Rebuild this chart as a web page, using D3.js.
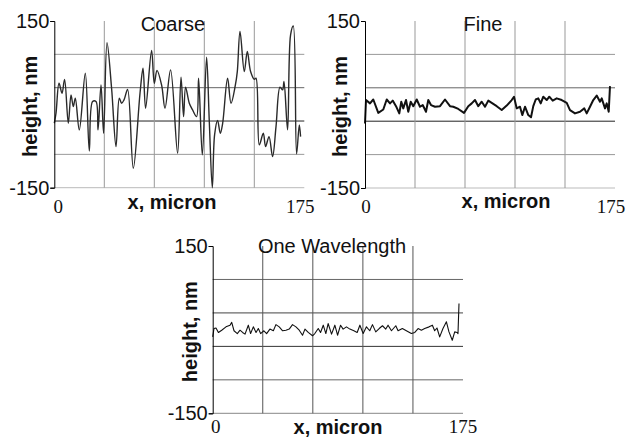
<!DOCTYPE html>
<html><head><meta charset="utf-8">
<script src="https://cdn.jsdelivr.net/npm/d3@7"></script>
<style>body{margin:0;background:#fff}svg{display:block}</style>
</head><body>
<svg id="c" width="641" height="438"></svg>
<script>
// ---- data ----
const yTicks = [-150, 150];
const xTicks = [0, 175];
const gridX = [35, 70, 105, 140];
const gridY = [-150, -90, -30, 30, 90];

const coarseX = [0,1.2,3.3,5.4,7.2,9.8,11.7,13.3,14.7,17.5,21.7,24.5,26.8,29.2,30.6,32.7,34.5,36.9,40.1,43.2,45.5,47.1,48.8,51.3,55.3,60.0,62.1,63.9,68.1,70.0,71.9,75.1,77.5,81.4,86.3,88.7,90.5,91.9,94.5,96.8,99.6,101.0,103.6,106.6,108.5,110.6,112.2,114.3,116.2,117.8,121.3,123.7,126.7,128.1,130.0,133.0,135.1,137.4,140.0,141.2,143.5,146.3,147.9,150.3,152.8,155.2,158.0,159.8,160.8,163.3,165.4,167.3,169.6,171.5,172.4];
const coarseY = [-34,-16,38,20,45,-34,17,-4,11,-46,56,-84,5,5,-46,35,-52,111,29,-76,11,2,8,27,-115,20,65,-7,97,38,61,35,-7,62,-88,49,-22,31,2,-10,-22,47,-91,85,-31,-150,-55,-29,-52,-35,47,2,34,59,131,59,95,59,45,47,-73,-52,-76,-58,-94,-40,31,26,41,-46,125,141,-89,-37,-58];

const fineX = [0,0.7,3.5,5.8,9.3,12.8,15.2,17.5,19.4,21.7,24.0,25.4,26.8,28.7,30.3,32.0,33.8,36.2,38.5,40.4,42.7,44.3,46.2,49.0,52.5,56.0,59.5,61.8,65.3,69.3,72.3,74.7,77.0,79.3,81.7,84.0,86.3,88.7,92.2,95.7,99.2,102.7,104.3,106.2,108.5,110.1,112.0,114.3,116.2,117.8,119.5,121.3,123.0,124.8,127.2,129.0,131.4,134.2,137.7,141.2,143.5,147.0,150.5,153.5,155.2,157.5,159.8,162.2,164.5,165.7,168.0,169.2,170.6,171.5];
const fineY = [-34,8,2,9,-15,-9,9,2,7,-3,-16,5,-7,8,-13,5,-3,9,-4,-1,-13,8,-1,-4,-3,9,-3,-4,-8,-15,-3,2,8,-3,5,-4,7,3,-3,-10,-2,8,14,-7,-4,-19,-4,-19,-23,-3,9,11,2,14,8,14,7,11,8,3,-10,-16,-13,-7,-16,-4,8,16,5,11,-7,2,-13,33];

const waveX = [0,0.9,2.3,4.0,6.3,9.3,12.1,13.3,14.9,17.2,19.1,20.9,22.6,24.9,26.5,28.4,30.3,31.9,33.5,35.8,37.7,40.0,42.4,44.2,46.5,48.9,51.2,53.5,55.8,58.2,60.5,62.8,64.5,66.8,69.8,71.4,73.8,75.4,77.3,79.1,80.7,83.1,85.4,87.3,89.4,91.2,93.5,95.9,98.7,101.0,102.9,105.2,107.5,109.8,111.7,114.0,116.4,118.7,121.0,122.6,125.0,128.0,129.6,132.6,135.4,138.9,141.3,143.6,145.9,148.2,151.3,153.6,155.2,156.8,158.7,161.0,163.4,165.2,167.5,169.2,170.8,171.5,172.2];
const waveY = [-13,2,3,-5,-1,5,8,13,-2,-7,-1,-5,-8,8,-7,5,-5,2,-7,-2,-7,1,-2,9,5,-2,-1,1,9,5,-1,-10,1,-5,-11,-7,2,-5,8,-7,11,-8,8,-10,8,1,5,1,-2,-5,8,-7,5,-2,9,-4,2,7,1,8,-2,7,-2,2,-2,-7,-5,2,-1,2,5,8,-2,3,-13,2,14,-4,-19,-4,-5,-7,47];

const titles = ["Coarse", "Fine", "One Wavelength"];
const yLabel = "height, nm";
const xLabel = "x, micron";

// ---- layout ----
const svg = d3.select("#c");
const panels = [
  {x0:54.3, x1:304.3, y0:21, y1:187.7, xs:coarseX, ys:coarseY, title:titles[0], titleX:173, titleY:31,
   lineColor:"#2a2a2a", lineW:1.4, curve:d3.curveCatmullRom.alpha(0.5),
   hCol:{"-150":"#bbb","-90":"#999","-30":"#222","30":"#666","90":"#999"}, vCol:"#999",
   ylabX:37, xlabX:172, xlabY:209, lab0dx:4, lab175dx:-4, tickY:213},
  {x0:365, x1:615, y0:21, y1:188, xs:fineX, ys:fineY, title:titles[1], titleX:483, titleY:31,
   lineColor:"#111", lineW:2, curve:d3.curveLinear,
   hCol:{"-150":"#bbb","-90":"#999","-30":"#222","30":"#666","90":"#999"}, vCol:"#999",
   ylabX:347, xlabX:506, xlabY:208, lab0dx:1, lab175dx:-4, tickY:213},
  {x0:212.7, x1:463, y0:246, y1:413.3, xs:waveX, ys:waveY, title:titles[2], titleX:332, titleY:253,
   lineColor:"#111", lineW:1.1, curve:d3.curveLinear,
   hCol:{"-150":"#888","-90":"#666","-30":"#333","30":"#444","90":"#666"}, vCol:"#555",
   ylabX:197, xlabX:338, xlabY:434, lab0dx:3, lab175dx:0, tickY:433}
];

panels.forEach(p => {
  const x = d3.scaleLinear().domain([0,175]).range([p.x0, p.x1]);
  const y = d3.scaleLinear().domain([-150,150]).range([p.y1, p.y0]);
  const g = svg.append("g");

  // horizontal grid
  g.selectAll(".h").data(gridY).join("line")
    .attr("x1", p.x0).attr("x2", p.x1)
    .attr("y1", d => y(d)).attr("y2", d => y(d))
    .attr("stroke", d => p.hCol[String(d)]).attr("stroke-width", 1);
  // vertical grid
  g.selectAll(".v").data(gridX).join("line")
    .attr("x1", d => x(d)).attr("x2", d => x(d))
    .attr("y1", y(150)).attr("y2", y(-150))
    .attr("stroke", p.vCol).attr("stroke-width", 1);

  // data line
  const line = d3.line().x(d => x(d[0])).y(d => y(d[1])).curve(p.curve);
  g.append("path").datum(d3.zip(p.xs, p.ys))
    .attr("d", line).attr("fill", "none")
    .attr("stroke", p.lineColor).attr("stroke-width", p.lineW)
    .attr("stroke-linejoin", "round");

  // y axis
  const ya = g.append("g").attr("transform", `translate(${p.x0},0)`)
    .call(d3.axisLeft(y).tickValues(yTicks).tickSize(4).tickPadding(1).tickFormat(d => String(d)));
  ya.select(".domain").attr("stroke", "#000");
  ya.selectAll("line").attr("stroke", "#000");
  ya.selectAll("text").attr("font-family", "Liberation Sans, Arial, sans-serif")
    .attr("font-size", 20).attr("fill", "#111");

  // x tick labels (serif)
  const xa = g.append("g").attr("transform", `translate(0,${p.tickY})`);
  xa.selectAll("text").data(xTicks).join("text")
    .attr("x", d => x(d) + (d === 0 ? p.lab0dx : p.lab175dx))
    .attr("y", 0).attr("text-anchor", "middle")
    .attr("font-family", "Liberation Serif, Times New Roman, serif")
    .attr("font-size", 19).attr("fill", "#111")
    .text(d => d);

  // title
  g.append("text").attr("x", p.titleX).attr("y", p.titleY).attr("text-anchor", "middle")
    .attr("font-family", "Liberation Sans, Arial, sans-serif").attr("font-size", 20)
    .attr("fill", "#111").text(p.title);

  // axis labels
  g.append("text").attr("transform", `translate(${p.ylabX},${(p.y0 + p.y1) / 2 + 2}) rotate(-90)`)
    .attr("text-anchor", "middle").attr("font-family", "Liberation Sans, Arial, sans-serif")
    .attr("font-weight", "bold").attr("font-size", 20).attr("fill", "#111").text(yLabel);
  g.append("text").attr("x", p.xlabX).attr("y", p.xlabY).attr("text-anchor", "middle")
    .attr("font-family", "Liberation Sans, Arial, sans-serif")
    .attr("font-weight", "bold").attr("font-size", 20).attr("fill", "#111").text(xLabel);
});
</script>
</body></html>
